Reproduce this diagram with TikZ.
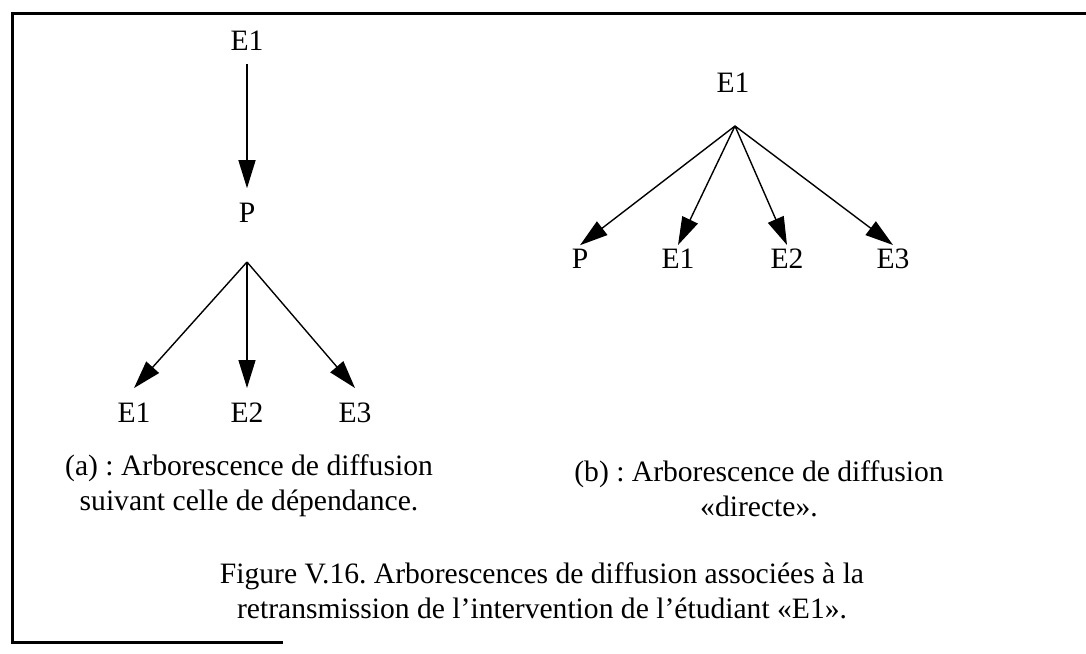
\documentclass[tikz,border=0pt]{standalone}
\usepackage{fontspec}
\setmainfont{Liberation Serif}
\usetikzlibrary{arrows.meta}

\begin{document}
\frenchspacing
\begin{tikzpicture}[x=0.5pt, y=-0.5pt,
    font=\fontsize{14.8pt}{13.5pt}\selectfont,
    lbl/.style={inner sep=7pt, anchor=base},
    leaf/.style={inner sep=1.5pt, anchor=base},
    captxt/.style={inner sep=0pt, anchor=north, align=center},
    arr/.style={line width=0.7pt, -{Triangle[length=14pt, width=8.5pt]}}]
    \useasboundingbox (0,0) rectangle (1086,653);

    % Frame (left, top, bottom stub)
    \draw[line width=1.5pt] (283,642) -- (12,642) -- (12,13) -- (1086,13);

    % (a) diffusion following the dependency tree
    \node[lbl] (aTop) at (247,50) {E1};
    \node[lbl] (aP) at (247,222) {P};
    \coordinate (aFork) at (247,262);
    \node[lbl] (aE1) at (134,422) {E1};
    \node[lbl] (aE2) at (247,422) {E2};
    \node[lbl] (aE3) at (355,422) {E3};
    \draw[arr] (aTop) -- (aP);
    \foreach \n in {aE1,aE2,aE3} {
        \draw[arr] (aFork) -- (\n.north);
    }

    % (b) direct diffusion
    \node[lbl] (bTop) at (733,92) {E1};
    \coordinate (bFork) at (735,126);
    \node[leaf] (bP) at (580,268) {P};
    \node[leaf] (bE1) at (678,268) {E1};
    \node[leaf] (bE2) at (787,268) {E2};
    \node[leaf] (bE3) at (893,268) {E3};
    \foreach \n in {bP,bE1,bE2,bE3} {
        \draw[arr] (bFork) -- (\n.north);
    }

    % Captions
    \node[captxt] (capA) at (249,454) {(a) : Arborescence de diffusion\\[4pt]suivant celle de dépendance.};
    \node[captxt] (capB) at (759,460) {(b) : Arborescence de diffusion\\[4pt]«directe».};
    \node[captxt] (capFig) at (542,562) {Figure V.16. Arborescences de diffusion associées à la\\[4pt]retransmission de l’intervention de l’étudiant «E1».};

\end{tikzpicture}
\end{document}
